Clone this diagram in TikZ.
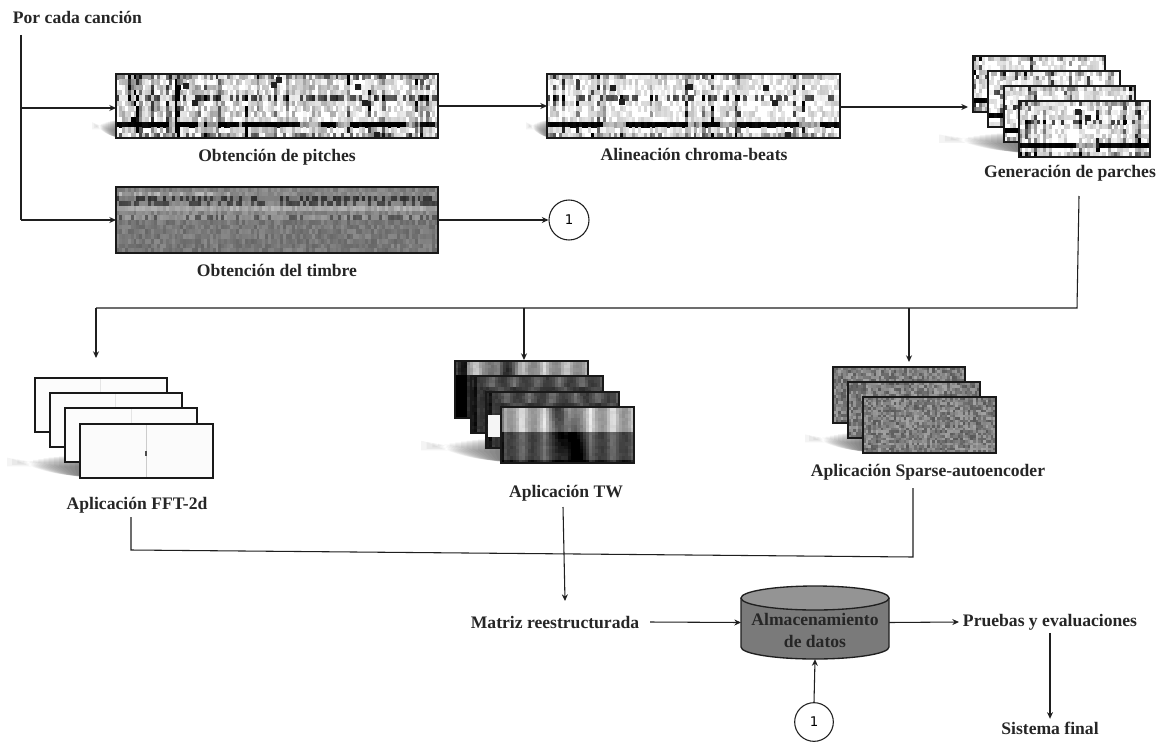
\documentclass[tikz,border=0pt]{standalone}
\usepackage{fontspec}
\setmainfont{Liberation Serif}
\newfontfamily\numfont{DejaVu Sans}
\usetikzlibrary{arrows.meta,calc}
\definecolor{ink}{gray}{0.12}
\tikzset{
  lab/.style={font=\fontsize{13.2pt}{15pt}\selectfont\bfseries, text=black!85, inner sep=2pt},
  conn/.style={draw=ink, line width=0.8pt},
  arr/.style={conn, -{Stealth[length=5pt,width=4.5pt]}},
  frame/.style={draw=black!90, line width=1.5pt, inner sep=0pt, outer sep=0pt},
  numc/.style={draw=ink, line width=0.8pt, circle, fill=white, inner sep=0pt, font=\numfont\fontsize{10pt}{12pt}\selectfont},
}
\newcommand\heat[8]{%
  \pgfmathsetseed{#7}%
  \fill[black!#8] (#1,#2) rectangle (#3,#4);%
  \pgfmathsetmacro\hw{(#3-#1)/#5}%
  \pgfmathsetmacro\hh{(#4-#2)/#6}%
  \foreach \hi in {1,...,#5}{%
    \pgfmathrandominteger\hc{0}{100}%
    \foreach \hj in {1,...,#6}{%
      \pgfmathrandominteger\hr{0}{100}%
      \pgfmathtruncatemacro\hv{max(0,min(100,\hformula))}%
      \ifnum\hv>3 \fill[black!\hv] ({#1+(\hi-1)*\hw},{#2+(\hj-1)*\hh}) rectangle ++({\hw+0.3},{\hh+0.3});\fi
    }%
  }%
}
\newcommand\imgbox[5]{\node[frame, minimum width={(#4-#2)*0.75pt}, minimum height={(#5-#3)*0.75pt}] (#1) at ({(#2+#4)/2},{(#3+#5)/2}) {};}
\newcommand\softshadow[4]{%
  \foreach \sk in {0,...,13}{%
    \pgfmathsetmacro\sx{#1+\sk/14*(#3-#1)}%
    \pgfmathsetmacro\sy{#2+(#4-#2)*(0.12+0.55*\sk/14)}%
    \pgfmathsetmacro\st{#2+(#4-#2)*0.5*(1-\sk/14)^2+(#4-#2)*0.02}%
    \fill[black, fill opacity=0.045]
      (\sx,{\st}) -- (#3,{\st}) -- (#3,{#4-(13-\sk)*0.12}) .. controls ({\sx+0.45*(#3-\sx)},{#4-(13-\sk)*0.12}) and ({\sx+0.12*(#3-\sx)},\sy) .. (\sx,\sy) -- cycle;
  }%
}
\newcommand\blobs[1]{\foreach \bx/\by in {#1}{\fill[black!88] ({\bx-3},{\by-3}) rectangle ++(6,6);}}
\def\fpitch{(\hc>72?(\hc-72)*3:\hc/6)*\hr/60+(\hr>35?\hr/5:0)+(\hj==10?(sin(\hi*31)+sin(\hi*9)>-0.5?95:25):0)+(\hj==5?(\hr>45?50:8):0)+(\hj==12?\hr/2.2:0)+(\hj==1?\hr/3:0)}
\def\fchroma{(\hc>80?(\hc-80)*3:\hc/9)*\hr/60+(\hr>55?\hr/7:0)+(\hj==10?(sin(\hi*27)+sin(\hi*11)>-0.6?95:25):0)+(\hj==5?(\hr>55?55:3):0)+(\hj==12?\hr/3:0)+(\hj==1?\hr/4:0)}
\def\ftimbre{46+\hr/7+(\hj==1?-4:0)+(\hj==2?(\hi<40&&\hr>60?-28:-6):0)+(\hj==3?(\hr>50?22:2):0)+(\hj==4?(\hr>50?16:-4):0)+(\hj==5?-18:0)+(\hj==6?-6:0)+(\hj==7?(\hr>60?8:-8):0)}
\def\ftwlight{(\hj<8?6+34*abs(sin(\hi*24)):52+22*abs(sin(\hi*24)))+40*exp(-((\hi-22-(\hj-6)*0.3)/4)^2)+(\hj>15?18:0)+(\hi<2?30:0)+\hr/20}
\def\ftwdark{(\hj<4?52+22*abs(sin(\hi*24)):62+16*abs(sin(\hi*17)))+(\hi<3?20:0)+\hr/16}
\def\ftwtop{(\hj<5?14+30*abs(sin(\hi*24)):62+18*abs(sin(\hi*17)))+(\hi<5?45:0)+40*exp(-((\hi-17)/4)^2)*(\hj<5?1:0)+\hr/16}
\def\fnoise{36+\hr*0.3}
\begin{document}
\begin{tikzpicture}[x=0.75pt,y=-0.75pt]
\useasboundingbox (0,0) rectangle (1162,742);
\fill[white] (0,0) rectangle (1162,742);

% shadows
\softshadow{92}{120}{117}{138}
\softshadow{526}{120}{548}{138}
\softshadow{939}{132}{1020}{153}
\softshadow{7}{455}{80}{477}
\softshadow{421}{438}{501}{462}
\softshadow{805}{432}{863}{452}

% pitches
\let\hformula\fpitch
\heat{116}{74}{438}{138}{110}{12}{11}{0}
\blobs{186/86,195/103,274/85,279/80,358/87,365/103,377/135}
\imgbox{pit}{116}{74}{438}{138}
\node[lab] (pitl) at (277,157) {Obtención de pitches};

% chroma
\let\hformula\fchroma
\heat{547}{74}{840}{138}{100}{12}{23}{0}
\blobs{613/88,622/102,690/87,766/88,775/103,788/135}
\imgbox{cho}{547}{74}{840}{138}
\node[lab] (chol) at (694,154) {Alineación chroma-beats};

% timbre
\let\hformula\ftimbre
\heat{116}{187}{438}{253}{110}{14}{31}{50}
\imgbox{tim}{116}{187}{438}{253}
\node[lab] (timl) at (277,270) {Obtención del timbre};

% patches
\let\hformula\fchroma
\heat{973}{56}{1105}{112}{44}{12}{41}{0}
\imgbox{pa1}{973}{56}{1105}{112}
\heat{988}{71}{1120}{127}{44}{12}{42}{0}
\imgbox{pa2}{988}{71}{1120}{127}
\heat{1004}{86}{1135}{142}{44}{12}{43}{0}
\imgbox{pa3}{1004}{86}{1135}{142}
\heat{1019}{101}{1150}{157}{44}{12}{44}{0}
\blobs{1078/112,1088/118}
\imgbox{pa4}{1019}{101}{1150}{157}
\node[lab] (pal) at (1070,173) {Generación de parches};

% FFT stack
\fill[black!1] (35,378) rectangle (167,432);
\draw[black!10,line width=0.6pt] (100,378) -- (100,432);
\imgbox{ff1}{35}{378}{167}{432}
\fill[black!1] (50,393) rectangle (182,447);
\draw[black!10,line width=0.6pt] (115,393) -- (115,447);
\imgbox{ff2}{50}{393}{182}{447}
\fill[black!1] (65,408) rectangle (197,462);
\draw[black!10,line width=0.6pt] (131,408) -- (131,462);
\imgbox{ff3}{65}{408}{197}{462}
\fill[black!1.5] (80,424) rectangle (213,478);
\draw[black!20,line width=0.6pt] (146,424) -- (146,478);
\fill[black!70] (145,451) rectangle (147,456);
\imgbox{ff4}{80}{424}{213}{478}
\node[lab] (ffl) at (137,505) {Aplicación FFT-2d};

% TW stack
\let\hformula\ftwtop
\heat{455}{361}{588}{418}{44}{16}{51}{40}
\imgbox{tw1}{455}{361}{588}{418}
\let\hformula\ftwdark
\heat{471}{376}{603}{433}{44}{16}{52}{50}
\imgbox{tw2}{471}{376}{603}{433}
\heat{486}{392}{619}{448}{44}{16}{53}{50}
\fill[black!4] (488,415) rectangle (501,437);
\imgbox{tw3}{486}{392}{619}{448}
\let\hformula\ftwlight
\heat{501}{407}{634}{463}{44}{16}{54}{40}
\imgbox{tw4}{501}{407}{634}{463}
\node[lab] (twl) at (566,493) {Aplicación TW};

% autoencoder stack
\let\hformula\fnoise
\heat{833}{367}{965}{423}{52}{18}{61}{40}
\imgbox{au1}{833}{367}{965}{423}
\heat{848}{382}{980}{438}{52}{18}{62}{40}
\imgbox{au2}{848}{382}{980}{438}
\heat{863}{397}{996}{453}{52}{22}{63}{40}
\imgbox{au3}{863}{397}{996}{453}
\node[lab] (aul) at (928,472) {Aplicación Sparse-autoencoder};

% storage
\node[minimum width=111pt, minimum height=55pt, inner sep=0pt, outer sep=0pt] (db) at (815,622.5) {};
\fill[black!52] (741,598) -- (741,647) arc[start angle=180,end angle=0,x radius=74,y radius=12] -- (889,598) -- cycle;
\fill[black!42] (815,598) ellipse [x radius=74,y radius=12];
\draw[conn,line width=1pt] (741,598) -- (741,647) arc[start angle=180,end angle=0,x radius=74,y radius=12] -- (889,598);
\draw[conn,line width=1pt] (815,598) ellipse [x radius=74,y radius=12];
\node[lab,align=center,font=\fontsize{13.2pt}{16.5pt}\selectfont\bfseries] (dbl) at (815,630) {Almacenamiento\\de datos};

\node[lab, inner xsep=8pt] (mat) at (555,622) {Matriz reestructurada};
\node[lab, inner xsep=0pt, outer xsep=3pt] (pru) at (1050,622) {Pruebas y evaluaciones};
\node[lab] (sis) at (1050,728) {Sistema final};
\node[lab,anchor=west] (por) at (10,17) {Por cada canción};

\node[numc, minimum size=30pt] (c1) at (569,220) {1};
\node[numc, minimum size=29pt] (c2) at (814,722) {1};

% free ends and junctions
\coordinate (s0) at (21,35);
\coordinate (j1) at (21,108);
\coordinate (j2) at (21,220);
\coordinate (s1) at (1079,196);
\coordinate (b0) at (1077,308);
\coordinate (b1) at (96,308);
\coordinate (b2) at (524,308);
\coordinate (b3) at (909,308);
\coordinate (e1) at (96,358);
\coordinate (e2) at (524,360);
\coordinate (e3) at (909,362);
\coordinate (m0) at (131,517);
\coordinate (m1) at (131,550);
\coordinate (m2) at (913,557);
\coordinate (m3) at (913,488);
\coordinate (t0) at (563,507);
\coordinate (t1) at (565,601);
\coordinate (pa) at (968,107);

% connectors
\draw[conn] (s0) -- (j2);
\draw[arr] (j1) -- (j1 -| pit.west);
\draw[arr] (j2) -- (tim.west);
\draw[arr] (pit.east) -- (cho.west);
\draw[arr] (cho.east |- pa) -- (pa);
\draw[arr] (tim.east) -- (c1.west);
\draw[conn] (s1) -- (b0) -- (b1);
\draw[arr] (b1) -- (e1);
\draw[arr] (b2) -- (e2);
\draw[arr] (b3) -- (e3);
\draw[conn] (m0) -- (m1) -- (m2) -- (m3);
\draw[arr] (t0) -- (t1);
\draw[arr] (mat.east) -- (db.west);
\draw[arr] (db.east) -- (pru.west);
\draw[arr] (c2.north) -- (db.south);
\draw[arr] (pru.south) -- (sis.north);
\end{tikzpicture}
\end{document}
